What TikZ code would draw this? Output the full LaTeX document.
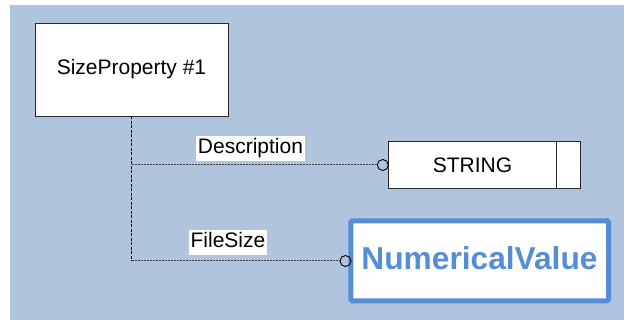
\documentclass[tikz,border=0pt]{standalone}
\usepackage{fontspec}
\setmainfont{Liberation Sans}
\definecolor{bgblue}{RGB}{176,196,222}
\definecolor{nvblue}{RGB}{85,142,213}
\definecolor{edgegray}{RGB}{40,40,40}
\tikzset{
  classbox/.style={draw=edgegray, line width=0.9pt, fill=white, inner sep=0pt},
  lbl/.style={fill=white, inner xsep=1.5pt, inner ysep=0pt, font=\fontsize{21}{25.2}\selectfont},
  vline/.style={draw=black, line width=1pt, dash pattern=on 3pt off 1.5pt},
  hline/.style={draw=black!75, line width=1pt, dash pattern=on 2pt off 1pt},
  ring/.style={circle, draw=black, line width=0.9pt, minimum size=11pt, inner sep=0pt},
  txt/.style={font=\fontsize{21}{25.2}\selectfont, inner sep=0pt}
}
\begin{document}
\begin{tikzpicture}[x=1pt,y=-1pt]
\useasboundingbox (0,0) rectangle (624,320);
\fill[white] (0,0) rectangle (624,320);
\fill[bgblue] (10,5) rectangle (624,320);
% SizeProperty box
\draw[classbox] (35.5,23) rectangle (228,116.5);
\node[txt] (sp) at (131.5,69.5) {SizeProperty \#1};
\coordinate (spb) at (131.5,116.5);
% STRING box
\draw[classbox] (388.3,141.7) rectangle (580.7,188.3);
\draw[edgegray, line width=0.9pt] (556.7,141.7) -- (556.7,188.3);
\node[txt] (str) at (472.5,165) {STRING};
% NumericalValue box
\draw[nvblue, line width=5pt, fill=white, rounded corners=1.5pt] (350.8,220.8) rectangle (608.6,300.8);
\node[font=\fontsize{31.7}{38}\selectfont\bfseries, text=nvblue, inner sep=0pt] (nv) at (479.5,258) {NumericalValue};
% rings
\node[ring] (r1) at (382.8,165) {};
\node[ring] (r2) at (345.5,261) {};
% corner points
\coordinate (c1) at (131.5,165);
\coordinate (c2) at (131.5,261);
% connectors
\draw[vline] (spb) -- (c2);
\draw[hline] (c1) -- (r1.west);
\draw[hline] (c2) -- (r2.west);
% labels
\node[lbl] (ld) at (250.5,148.2) {\strut Description};
\node[lbl] (lf) at (228,242.5) {\strut FileSize};
\end{tikzpicture}
\end{document}
